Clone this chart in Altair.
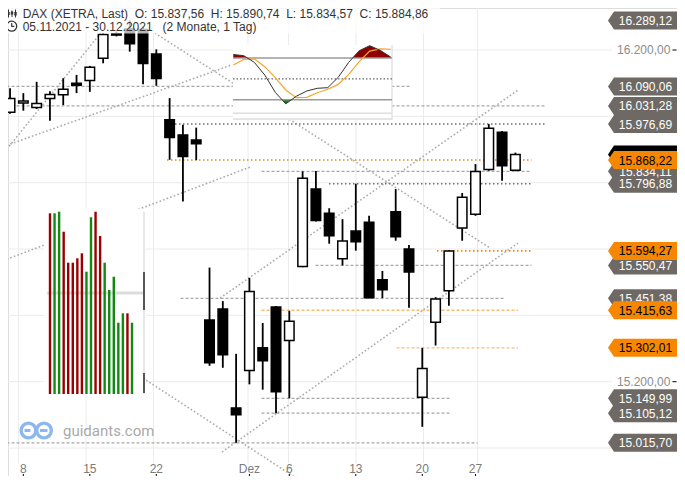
import altair as alt
import pandas as pd

# ---------------- data ----------------
dates = ["05.11.", "08.11.", "09.11.", "10.11.", "11.11.", "12.11.", "15.11.", "16.11.", "17.11.",
         "18.11.", "19.11.", "22.11.", "23.11.", "24.11.", "25.11.", "26.11.", "29.11.", "30.11.",
         "01.12.", "02.12.", "03.12.", "06.12.", "07.12.", "08.12.", "09.12.", "10.12.", "13.12.",
         "14.12.", "15.12.", "16.12.", "17.12.", "20.12.", "21.12.", "22.12.", "23.12.", "27.12.",
         "28.12.", "29.12.", "30.12."]
opens = [16012, 16040, 16027, 16054, 16065, 16100, 16108, 16175, 16245, 16263, 16262, 16188, 15990,
         15944, 15929, 15386, 15419, 15121, 15234, 15302, 15425, 15324, 15547, 15781, 15708, 15571,
         15654, 15681, 15507, 15712, 15600, 15153, 15379, 15474, 15663, 15705, 15840, 15952, 15837.56]
highs = [16085, 16070, 16104, 16076, 16115, 16125, 16152, 16250, 16256, 16289.12, 16270, 16202, 16055,
         15975, 15966, 15544, 15443, 15284, 15513, 15377, 15428, 15414, 15834.11, 15835, 15723, 15690,
         15796.88, 15700, 15534, 15781, 15612, 15302, 15455, 15596, 15769, 15856, 15976.69, 15956, 15890.74]
lows = [16008, 16017, 16022, 15987, 16034, 16070, 16074, 16160, 16241, 16195, 16097, 16092, 15869,
        15743, 15868, 15248, 15242, 15015.70, 15192, 15176, 15105.12, 15149.99, 15545, 15683, 15616,
        15550.47, 15595, 15451.38, 15452, 15625, 15423, 15064, 15309, 15429, 15625, 15700, 15836, 15806, 15834.57]
closes = [16054, 16046, 16039, 16066, 16082, 16094, 16148, 16247, 16249, 16219, 16159, 16114, 15936,
          15879, 15917, 15257, 15281, 15100, 15472, 15263, 15170, 15382, 15813, 15686, 15640, 15624,
          15622, 15453, 15477, 15637, 15531, 15240, 15449, 15594, 15756, 15834, 15964, 15851, 15884.86]

# horizontal levels: price, start index, end index, style
level_price = [16090.06, 16031.28, 15976.69, 15868.22, 15834.11, 15796.88, 15594.27, 15550.47,
               15451.38, 15415.63, 15302.01, 15149.99, 15105.12, 15015.70]
level_start = [-1, -1, 12, 12, 19, 24, 32, 23, 13, 19, 29, 19, 19, -1]
level_end = [30, 40, 40, 39, 39, 39, 39, 39, 37, 38, 38, 33, 33, 35]
level_style = ["gd", "gd", "kd", "od", "gd", "kd", "od", "gd", "gd", "ol", "ol", "gd", "gd", "gd"]

# trendlines: (index, price) endpoints
trend_id = ["F", "F", "G", "G", "A", "A", "B", "B", "C", "C", "D", "D", "E", "E"]
trend_i = [-0.4, 7.26, -0.4, 16.8, -0.4, 18.15, 15.93, 38.0, 16.07, 38.0, 10.22, 22.6, 11.1, 35.93]
trend_p = [15874, 16260, 15905, 16155, 15561, 15847, 15452, 16079, 14988, 15618, 15211, 14882, 16251, 15603]

# right-hand price tags
gray_tags = [16289.12, 16090.06, 16031.28, 15976.69, 15834.11, 15796.88, 15550.47, 15451.38,
             15149.99, 15105.12, 15015.70]
black_tags = [15884.86]
orange_tags = [15868.22, 15594.27, 15415.63, 15302.01]
axis_prices = [16200, 15200]
grid_prices = [16200, 16000, 15800, 15600, 15400, 15200, 15000]

tick_idx = [1, 6, 11, 18, 21, 26, 31, 35]
tick_txt = ["8", "15", "22", "Dez", "6", "13", "20", "27"]

# side panel bars (heights as read, colour up/down)
vol_vals = [180.7, 180.7, 182.3, 162.3, 131.3, 131.3, 135.7, 140.7, 122.3, 176.7, 182.3, 158,
            131.3, 104, 117.3, 71.3, 80.7, 80.7, 71.3]
vol_up = [0, 1, 1, 0, 0, 0, 0, 0, 1, 1, 0, 0, 1, 1, 1, 1, 1, 0, 1]

# stochastic inset
stoch_k = [85, 83.3, 73.8, 55.5, 30.6, 14, 24.9, 32.5, 36.4, 37.3, 52.2, 73.8, 90.5, 97.7, 91, 81.4]
stoch_d = [70, 78, 78.6, 67.5, 51.7, 34, 23, 23.4, 30, 35, 42, 56.5, 74.7, 90, 93, 92.5]

# ---------------- geometry ----------------
OFF = 8
W, H = 669, 468
PXD = 13.5
X0 = 5.0
d0 = (OFF - X0) / PXD
d1 = d0 + W / PXD
PPX = 0.3317
p_top = 16200 + (50 - OFF) / PPX
p_bot = p_top - H / PPX

xs = alt.Scale(domain=[d0, d1], nice=False, zero=False)
ys = alt.Scale(domain=[p_bot, p_top], nice=False, zero=False)
FONT = "Liberation Sans"


def de(v):
    s = f"{v:,.2f}"
    return s.replace(",", "X").replace(".", ",").replace("X", ".")


def X(f):
    return alt.X(f, scale=xs, axis=None)


def Y(f):
    return alt.Y(f, scale=ys, axis=None)


one = pd.DataFrame({"a": [0]})


def prule(x, y, x2=None, y2=None, color="#333333", sw=1.0, dash=None):
    enc = {"x": alt.value(x), "y": alt.value(y)}
    if x2 is not None:
        enc["x2"] = alt.value(x2)
    if y2 is not None:
        enc["y2"] = alt.value(y2)
    kw = {"color": color, "strokeWidth": sw}
    if dash is not None:
        kw["strokeDash"] = dash
    return alt.Chart(one).mark_rule(**kw).encode(**enc)


def prect(x, x2, y, y2, fill, opacity=1.0):
    return alt.Chart(one).mark_rect(fill=fill, opacity=opacity).encode(
        x=alt.value(x), x2=alt.value(x2), y=alt.value(y), y2=alt.value(y2))


candles = pd.DataFrame({"i": list(range(len(dates))), "d": dates, "o": opens, "h": highs,
                        "l": lows, "c": closes})

# grid
grid_h = alt.Chart(pd.DataFrame({"p": grid_prices})).mark_rule(color="#ebebeb", strokeWidth=1).encode(
    y=Y("p:Q"), x=alt.value(0), x2=alt.value(604))
grid_v = alt.Chart(pd.DataFrame({"i": tick_idx})).mark_rule(color="#ebebeb", strokeWidth=1).encode(
    x=X("i:Q"), y=alt.value(0), y2=alt.value(455))

trend_df = pd.DataFrame({"id": trend_id, "i": trend_i, "p": trend_p})
trend = alt.Chart(trend_df).mark_line(color="#ababab", strokeWidth=1.6, strokeDash=[1.6, 2.2]).encode(
    x=X("i:Q"), y=Y("p:Q"), detail="id:N")

lvl_df = pd.DataFrame({"p": level_price, "s": level_start, "e": level_end, "st": level_style})
styles = {"gd": ("#a8a8a8", [3, 2], 1.2), "kd": ("#6f6f6f", [1.5, 2.5], 1.5),
          "od": ("#f08a00", [1.5, 2.5], 1.6), "ol": ("#f7be72", [3, 2], 1.4)}
lvl_layers = []
for k, (col, dash, sw) in styles.items():
    lvl_layers.append(
        alt.Chart(lvl_df[lvl_df.st == k]).mark_rule(color=col, strokeDash=dash, strokeWidth=sw).encode(
            y=Y("p:Q"), x=X("s:Q"), x2="e:Q"))

# side panel background + handles (plot pixel coords)
panel = [prect(36, 138, 201, 387, "white"),
         prule(39, 285, x2=135, color="#dcdcdc", sw=3),
         prule(136, 204, y2=386, color="#cfcfcf", sw=1),
         prule(136, 264, y2=302, color="#555555", sw=2),
         prule(136, 365, y2=385, color="#555555", sw=2)]

back = alt.layer(grid_h, grid_v, trend, *lvl_layers, *panel)

# side panel bars (own scales)
vol_df = pd.DataFrame({"j": list(range(len(vol_vals))), "v": vol_vals,
                       "col": ["#128a12" if u else "#9b0000" for u in vol_up]})
vol = alt.Chart(vol_df).mark_bar(size=2.4).encode(
    x=alt.X("j:Q", scale=alt.Scale(domain=[0, 18], range=[37, 129], nice=False, zero=False), axis=None),
    y=alt.Y("v:Q", scale=alt.Scale(domain=[0, 200], range=[386, 186], nice=False), axis=None),
    color=alt.Color("col:N", scale=None))
vol_layer = alt.layer(vol)

# stochastic inset (own scales)
ix = alt.Scale(domain=[0, 15], range=[225.3, 382.7], nice=False, zero=False)
iy = alt.Scale(domain=[0, 100], range=[105.6, 36.1], nice=False, zero=True)


def clip_series(vals, thr, above):
    pts = []
    for k in range(len(vals)):
        if k > 0:
            a, b = vals[k - 1], vals[k]
            if (a - thr) * (b - thr) < 0:
                t = (thr - a) / (b - a)
                pts.append((k - 1 + t, thr))
        v = vals[k]
        pts.append((k, max(v, thr) if above else min(v, thr)))
    return pts


red_pts = clip_series(stoch_k, 80, True)
grn_pts = clip_series(stoch_k, 20, False)
red_df = pd.DataFrame({"x": [p[0] for p in red_pts], "v": [p[1] for p in red_pts], "t": 80})
grn_df = pd.DataFrame({"x": [p[0] for p in grn_pts], "v": [p[1] for p in grn_pts], "t": 20})
IX = lambda f: alt.X(f, scale=ix, axis=None)
IY = lambda f: alt.Y(f, scale=iy, axis=None)
red = alt.Chart(red_df).mark_area(color="#8e0000", opacity=1).encode(x=IX("x:Q"), y=IY("v:Q"), y2="t:Q")
grn = alt.Chart(grn_df).mark_area(color="#137a13", opacity=1).encode(x=IX("x:Q"), y=IY("v:Q"), y2="t:Q")
thr = alt.Chart(pd.DataFrame({"v": [80, 20]})).mark_rule(color="#9a9a9a", strokeWidth=1.6).encode(
    y=IY("v:Q"), x=alt.value(225), x2=alt.value(384))
mid = alt.Chart(pd.DataFrame({"v": [50]})).mark_rule(color="#666666", strokeWidth=1.3,
                                                     strokeDash=[1.5, 2]).encode(
    y=IY("v:Q"), x=alt.value(225), x2=alt.value(384))
st_df = pd.DataFrame({"x": list(range(len(stoch_k))), "k": stoch_k, "d": stoch_d})
dline = alt.Chart(st_df).mark_line(color="#f5a631", strokeWidth=1.2).encode(x=IX("x:Q"), y=IY("d:Q"))
kline = alt.Chart(st_df).mark_line(color="#333333", strokeWidth=1).encode(x=IX("x:Q"), y=IY("k:Q"))
inset_layer = alt.layer(prect(225, 384, 37, 112, "white"),
                        prule(384, 37, y2=112, color="#e2e2e2", sw=1.5),
                        prule(225, 105.3, x2=384, color="#dddddd", sw=1.5),
                        prule(225, 111, x2=384, color="#dddddd", sw=1.5),
                        red, grn, thr, mid, dline, kline)

# candles
wick = alt.Chart(candles).mark_rule(color="black", strokeWidth=1.8).encode(
    x=X("i:Q"), y=Y("l:Q"), y2="h:Q")
body = alt.Chart(candles).mark_bar(size=9.5, stroke="black", strokeWidth=1.5).encode(
    x=X("i:Q"), y=Y("o:Q"), y2="c:Q",
    fill=alt.condition("datum.c >= datum.o", alt.value("white"), alt.value("black")))

# header
nb = "\u00a0\u00a0"
line1 = f"DAX (XETRA, Last){nb}O: {de(opens[-1])}{nb}H: {de(highs[-1])}{nb}L: {de(lows[-1])}{nb}C: {de(closes[-1])}"
line2 = "05.11.2021 - 30.12.2021\u00a0\u00a0\u00a0(2 Monate, 1 Tag)"


def ptext(t, x, y, size=12, color="#333333", font=FONT, align="left", baseline="alphabetic"):
    return alt.Chart(pd.DataFrame({"t": [t]})).mark_text(
        align=align, baseline=baseline, font=font, fontSize=size, color=color).encode(
        text="t:N", x=alt.value(x), y=alt.value(y))


header = [prect(0, 432, 0, 25.5, "white", 0.72),
          ptext(line1, 14.7, 10), ptext(line2, 14.7, 23),
          prule(0.5, 1.5, y2=9.5), prule(4, 2.5, y2=9), prule(7.5, 1.5, y2=9.5),
          prect(-0.7, 1.7, 4, 7, "#333333"), prect(2.8, 5.2, 3.5, 6.5, "#333333"),
          prect(6.3, 8.7, 4, 7.5, "#333333"),
          alt.Chart(one).mark_point(shape="circle", size=100, filled=False, color="#333333",
                                    strokeWidth=1.3, opacity=1).encode(x=alt.value(3.7), y=alt.value(18.2)),
          prule(3.7, 15, y2=18.4, sw=1.2), prule(3.5, 18.4, x2=6.3, sw=1.2)]

# tags (69 px wide, 18 px tall, arrow tip on the left)
TAG = "M-1,0L-0.826,-0.2609L1,-0.2609L1,0.2609L-0.826,0.2609Z"


def tag_layer(vals, fill, txtcol, show_text=True):
    df = pd.DataFrame({"p": vals, "t": [de(v) for v in vals]})
    shp = alt.Chart(df).mark_point(shape=TAG, size=4761, filled=True, fill=fill, opacity=1,
                                   strokeWidth=0).encode(x=alt.value(634.5), y=Y("p:Q"))
    if not show_text:
        return [shp]
    txt = alt.Chart(df).mark_text(font=FONT, fontSize=12, color=txtcol, align="center",
                                  baseline="middle", dy=0.5).encode(x=alt.value(637.5), y=Y("p:Q"), text="t:N")
    return [shp, txt]


tags = tag_layer(gray_tags, "#6e6964", "white") + tag_layer(black_tags, "black", "black", False) + \
    tag_layer(orange_tags, "#f78700", "black")

ax_df = pd.DataFrame({"p": axis_prices, "t": [de(v) for v in axis_prices]})
ax_lbl = alt.Chart(ax_df).mark_text(font=FONT, fontSize=12, color="#8c8c8c", align="left",
                                    baseline="middle").encode(x=alt.value(609), y=Y("p:Q"), text="t:N")
ax_tick = alt.Chart(ax_df).mark_rule(color="black", strokeWidth=1).encode(
    y=Y("p:Q"), x=alt.value(664.5), x2=alt.value(668.5))

xt_df = pd.DataFrame({"i": tick_idx, "t": tick_txt})
x_lbl = alt.Chart(xt_df).mark_text(font=FONT, fontSize=12, color="#7a7a7a", baseline="middle").encode(
    x=X("i:Q"), y=alt.value(460.5), text="t:N")
x_tick = alt.Chart(xt_df).mark_rule(color="black", strokeWidth=1).encode(
    x=X("i:Q"), y=alt.value(466), y2=alt.value(468))

# watermark
BLUE = "#8db7ef"
watermark = [
    alt.Chart(one).mark_point(shape="circle", size=215, filled=False, color=BLUE, strokeWidth=3.4,
                              opacity=1).encode(x=alt.value(20.5), y=alt.value(422.5)),
    alt.Chart(one).mark_point(shape="circle", size=215, filled=False, color=BLUE, strokeWidth=3.4,
                              opacity=1).encode(x=alt.value(36), y=alt.value(422.5)),
    prule(16.5, 422.5, x2=22.5, color=BLUE, sw=3),
    prule(32, 422.5, x2=39.5, color=BLUE, sw=3),
    ptext("guidants.com", 55, 422.5, size=15, color="#a9a9a9", font="Roboto", baseline="middle"),
]

front = alt.layer(wick, body, *header, *tags, ax_lbl, ax_tick, x_lbl, x_tick, *watermark)

chart = alt.layer(back, vol_layer, inset_layer, front).resolve_scale(
    x="independent", y="independent", color="independent").properties(
    width=W, height=H, padding=0, autosize="none").configure_view(stroke=None).configure(background="white")

chart.save("out.html", embed_options={"renderer": "svg", "actions": False})
